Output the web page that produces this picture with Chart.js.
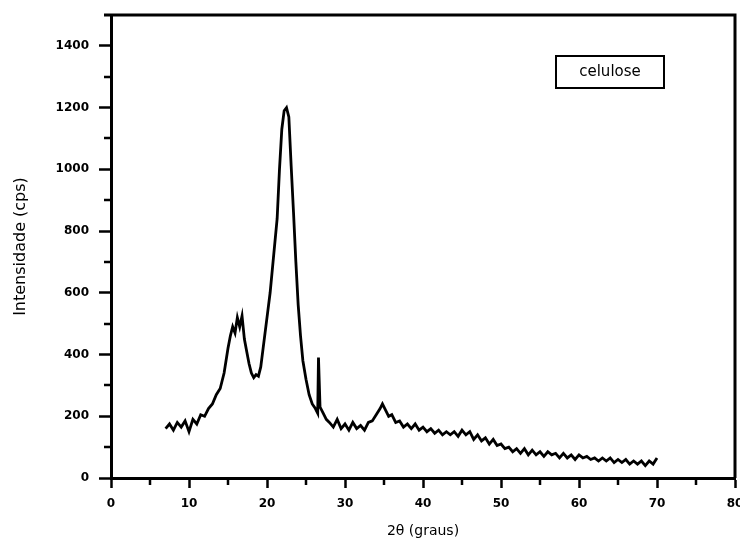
<!DOCTYPE html>
<html>
<head>
<meta charset="utf-8">
<script src="https://cdn.jsdelivr.net/npm/chart.js@4/dist/chart.umd.min.js"></script>
<style>
html,body{margin:0;padding:0;background:#fff;}
#wrap{width:740px;height:543px;position:relative;}
</style>
</head>
<body>
<div id="wrap"><canvas id="c" width="740" height="543"></canvas></div>
<script>
// ---- data ----
const twoTheta = [7.0,7.5,8.0,8.5,9.0,9.5,10.0,10.5,11.0,11.5,12.0,12.5,13.0,13.5,14.0,14.5,15.0,15.3,15.6,15.9,16.2,16.5,16.8,17.1,17.4,17.7,18.0,18.3,18.6,18.9,19.2,19.5,19.8,20.1,20.4,20.7,21.0,21.3,21.6,21.9,22.2,22.5,22.8,23.1,23.4,23.7,24.0,24.3,24.6,25.0,25.4,25.8,26.2,26.5,26.6,26.8,27.2,27.6,28.0,28.5,29.0,29.5,30.0,30.5,31.0,31.5,32.0,32.5,33.0,33.5,34.0,34.5,34.8,35.2,35.6,36.0,36.5,37.0,37.5,38.0,38.5,39.0,39.5,40.0,40.5,41.0,41.5,42.0,42.5,43.0,43.5,44.0,44.5,45.0,45.5,46.0,46.5,47.0,47.5,48.0,48.5,49.0,49.5,50.0,50.5,51.0,51.5,52.0,52.5,53.0,53.5,54.0,54.5,55.0,55.5,56.0,56.5,57.0,57.5,58.0,58.5,59.0,59.5,60.0,60.5,61.0,61.5,62.0,62.5,63.0,63.5,64.0,64.5,65.0,65.5,66.0,66.5,67.0,67.5,68.0,68.5,69.0,69.5,70.0];
const intensity = [160,175,155,180,165,185,150,190,175,205,200,225,240,270,290,340,420,460,490,470,520,490,525,450,410,370,340,325,335,330,360,420,480,540,600,680,760,840,1000,1130,1190,1200,1170,1010,860,700,560,460,380,320,270,240,225,210,390,230,210,190,180,165,190,160,175,155,180,160,170,155,180,185,205,225,240,220,200,205,180,185,165,175,160,175,155,165,150,160,145,155,140,150,140,150,135,155,140,150,125,140,120,130,110,125,105,110,95,100,85,95,80,95,75,90,75,85,70,85,75,80,65,80,65,75,60,75,65,70,60,65,55,65,55,65,50,60,50,60,45,55,45,55,40,55,45,65];
const xTicks = [0,10,20,30,40,50,60,70,80];
const xMinorTicks = [5,15,25,35,45,55,65,75];
const yTicks = [0,200,400,600,800,1000,1200,1400];
const yMinorTicks = [100,300,500,700,900,1100,1300];
const seriesLabel = 'celulose';
const xTitle = '2θ (graus)';
const yTitle = 'Intensidade (cps)';

const points = twoTheta.map((x, i) => ({x: x, y: intensity[i]}));

const framePlugin = {
  id: 'frame',
  afterDraw(chart) {
    const ctx = chart.ctx;
    const a = chart.chartArea;
    const xs = chart.scales.x, ys = chart.scales.y;
    ctx.save();
    ctx.strokeStyle = '#000';
    ctx.lineWidth = 3;
    ctx.beginPath();
    ctx.moveTo(a.left - 7, a.top);
    ctx.lineTo(a.right, a.top);
    ctx.lineTo(a.right, a.bottom);
    ctx.stroke();
    ctx.lineWidth = 2.5;
    ctx.beginPath();
    xMinorTicks.forEach(v => {
      const px = Math.round(xs.getPixelForValue(v));
      ctx.moveTo(px, a.bottom);
      ctx.lineTo(px, a.bottom + 7);
    });
    yMinorTicks.forEach(v => {
      const py = Math.round(ys.getPixelForValue(v));
      ctx.moveTo(a.left, py);
      ctx.lineTo(a.left - 7, py);
    });
    ctx.stroke();
    const bx = 556, by = 56, bw = 108, bh = 32;
    ctx.lineWidth = 2;
    ctx.strokeRect(bx, by, bw, bh);
    ctx.fillStyle = '#000';
    ctx.font = '15px "DejaVu Sans"';
    ctx.textAlign = 'center';
    ctx.textBaseline = 'middle';
    ctx.fillText(seriesLabel, bx + bw / 2, by + bh / 2);
    ctx.restore();
  }
};

new Chart(document.getElementById('c'), {
  type: 'line',
  data: {
    datasets: [{
      label: seriesLabel,
      data: points,
      borderColor: '#000',
      borderWidth: 2.8,
      pointRadius: 0,
      tension: 0,
      fill: false
    }]
  },
  options: {
    responsive: false,
    animation: false,
    devicePixelRatio: 1,
    layout: {padding: {top: 15, right: 5, left: 0, bottom: 0}},
    plugins: {legend: {display: false}, tooltip: {enabled: false}},
    scales: {
      x: {
        type: 'linear',
        min: 0, max: 80,
        afterBuildTicks: s => { s.ticks = xTicks.map(v => ({value: v})); },
        afterFit: s => { s.height = 65; s.paddingLeft = 0; s.paddingRight = 0; },
        border: {color: '#000', width: 3},
        grid: {drawOnChartArea: false, drawTicks: true, tickLength: 10, tickWidth: 2.5, tickColor: '#000'},
        ticks: {color: '#000', padding: 9, maxRotation: 0, autoSkip: false,
                callback: v => String(v),
                font: {family: 'DejaVu Sans', size: 12, weight: 'bold'}},
        title: {display: true, text: xTitle, color: '#000', padding: {top: 0, bottom: 3},
                font: {family: 'DejaVu Sans', size: 14}}
      },
      y: {
        type: 'linear',
        min: 0, max: 1500,
        afterBuildTicks: s => { s.ticks = yTicks.map(v => ({value: v})); },
        afterFit: s => { s.width = 111; s.paddingTop = 0; s.paddingBottom = 0; },
        border: {color: '#000', width: 3},
        grid: {drawOnChartArea: false, drawTicks: true, tickLength: 12, tickWidth: 2.5, tickColor: '#000'},
        ticks: {color: '#000', padding: 10, autoSkip: false,
                callback: v => String(v),
                font: {family: 'DejaVu Sans', size: 12, weight: 'bold'}},
        title: {display: true, text: yTitle, color: '#000', padding: {top: 11, bottom: 0},
                font: {family: 'DejaVu Sans', size: 16}}
      }
    }
  },
  plugins: [framePlugin]
});
</script>
</body>
</html>
